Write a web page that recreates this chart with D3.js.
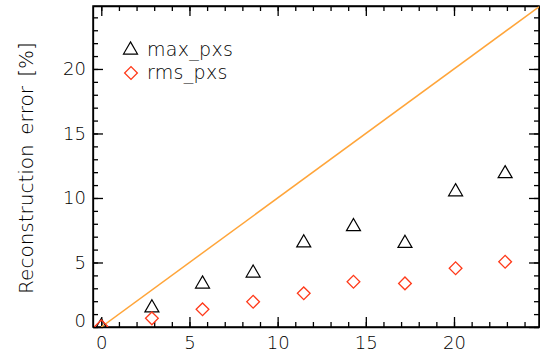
<!DOCTYPE html>
<html lang="en">
    <head>
        <meta charset="utf-8">
        <title>Reconstruction error</title>
        <script type="text/javascript" src="https://d3js.org/d3.v7.min.js"></script>
        <style type="text/css">
            body { margin: 0; background: white; }
            text {
                font-family: "DejaVu Sans", sans-serif;
                font-weight: 200;
                fill: black;
            }
            .axis path, .axis line { stroke: black; stroke-width: 1.3; }
            .axis text { font-size: 18px; }
        </style>
    </head>
    <body>
        <script type="text/javascript">

        // Data
        var xVals = [0, 2.87, 5.74, 8.61, 11.48, 14.3, 17.22, 20.09, 22.9];
        var maxPxs = [0.15, 1.6, 3.45, 4.3, 6.64, 7.9, 6.6, 10.6, 12.0];
        var rmsPxs = [0.05, 0.67, 1.37, 1.96, 2.61, 3.51, 3.38, 4.55, 5.06];
        var xTicks = [0, 5, 10, 15, 20];
        var yTicks = [0, 5, 10, 15, 20];
        var seriesNames = ["max_pxs", "rms_pxs"];

        var w = 540;
        var h = 358;
        var margin = {top: 6, right: 1, bottom: 31, left: 93};

        var svg = d3.select("body")
                    .append("svg")
                    .attr("width", w)
                    .attr("height", h);

        var x = d3.scaleLinear()
                  .domain([-0.47, 24.82])
                  .range([margin.left, w - margin.right]);
        var y = d3.scaleLinear()
                  .domain([0, 24.88])
                  .range([h - margin.bottom, margin.top]);

        var minorX = d3.range(0, 25, 1);
        var minorY = d3.range(0, 25, 1);

        // Axes: major ticks + minor ticks, all inward
        function addAxis(axisFn, scale, transform, ticks, minor, labels) {
            svg.append("g")
               .attr("class", "axis")
               .attr("transform", transform)
               .call(axisFn(scale).tickValues(minor).tickSize(-5).tickSizeOuter(0).tickFormat(""));
            var g = svg.append("g")
               .attr("class", "axis")
               .attr("transform", transform)
               .call(axisFn(scale).tickValues(ticks).tickSize(-10).tickSizeOuter(0)
                     .tickPadding(7)
                     .tickFormat(labels ? d3.format("d") : ""));
            g.selectAll(".domain").remove();
            return g;
        }

        addAxis(d3.axisBottom, x, "translate(0," + (h - margin.bottom) + ")", xTicks, minorX, true)
            .selectAll("text").attr("dy", "0.85em");
        addAxis(d3.axisTop, x, "translate(0," + margin.top + ")", xTicks, minorX, false);
        var yAxis = addAxis(d3.axisLeft, y, "translate(" + margin.left + ",0)", yTicks, minorY, true);
        // IDL lifts the bottom label off the corner
        yAxis.selectAll(".tick text")
             .filter(function(d) { return d === 0; })
             .attr("y", -6);
        addAxis(d3.axisRight, y, "translate(" + (w - margin.right) + ",0)", yTicks, minorY, false);

        // frame
        svg.append("rect")
           .attr("x", margin.left)
           .attr("y", margin.top)
           .attr("width", w - margin.right - margin.left)
           .attr("height", h - margin.bottom - margin.top)
           .attr("fill", "none")
           .attr("stroke", "black")
           .attr("stroke-width", 1.5);

        svg.append("clipPath")
           .attr("id", "plotclip")
           .append("rect")
           .attr("x", margin.left)
           .attr("y", margin.top)
           .attr("width", w - margin.right - margin.left)
           .attr("height", h - margin.bottom - margin.top);

        var plot = svg.append("g").attr("clip-path", "url(#plotclip)");

        // y = x line
        plot.append("line")
           .attr("x1", x(0)).attr("y1", y(0))
           .attr("x2", x(24.82)).attr("y2", y(24.82))
           .attr("stroke", "#ffa53a")
           .attr("stroke-width", 1.5);

        var tri = d3.symbol().type(d3.symbolTriangle).size(85);

        plot.selectAll("path.tri")
           .data(xVals)
           .enter()
           .append("path")
           .attr("class", "tri")
           .attr("d", tri)
           .attr("transform", function(d, i) {
               return "translate(" + x(d) + "," + (y(maxPxs[i]) + 1.5) + ")";
           })
           .attr("fill", "none")
           .attr("stroke", "black")
           .attr("stroke-width", 1.2);

        plot.selectAll("rect.dia")
           .data(xVals)
           .enter()
           .append("rect")
           .attr("class", "dia")
           .attr("x", -4.5).attr("y", -4.5)
           .attr("width", 9).attr("height", 9)
           .attr("transform", function(d, i) {
               return "translate(" + x(d) + "," + y(rmsPxs[i]) + ") rotate(45)";
           })
           .attr("fill", "none")
           .attr("stroke", "#ff3a1a")
           .attr("stroke-width", 1.3);

        // Legend
        svg.append("path")
           .attr("d", tri)
           .attr("transform", "translate(130.5,50)")
           .attr("fill", "none")
           .attr("stroke", "black")
           .attr("stroke-width", 1.2);
        svg.append("rect")
           .attr("x", -4.5).attr("y", -4.5)
           .attr("width", 9).attr("height", 9)
           .attr("transform", "translate(131,73) rotate(45)")
           .attr("fill", "none")
           .attr("stroke", "#ff3a1a")
           .attr("stroke-width", 1.3);
        svg.selectAll("text.leg")
           .data(seriesNames)
           .enter()
           .append("text")
           .attr("class", "leg")
           .attr("x", 147)
           .attr("y", function(d, i) { return 56 + i * 23; })
           .attr("font-size", "19px")
           .attr("letter-spacing", "0.3px")
           .text(function(d) { return d; });

        // Y axis title
        svg.append("text")
           .attr("transform", "translate(33,168) rotate(-90)")
           .attr("text-anchor", "middle")
           .attr("font-size", "20px")
           .attr("word-spacing", "3px")
           .text("Reconstruction error [%]");

        </script>
    </body>
</html>
